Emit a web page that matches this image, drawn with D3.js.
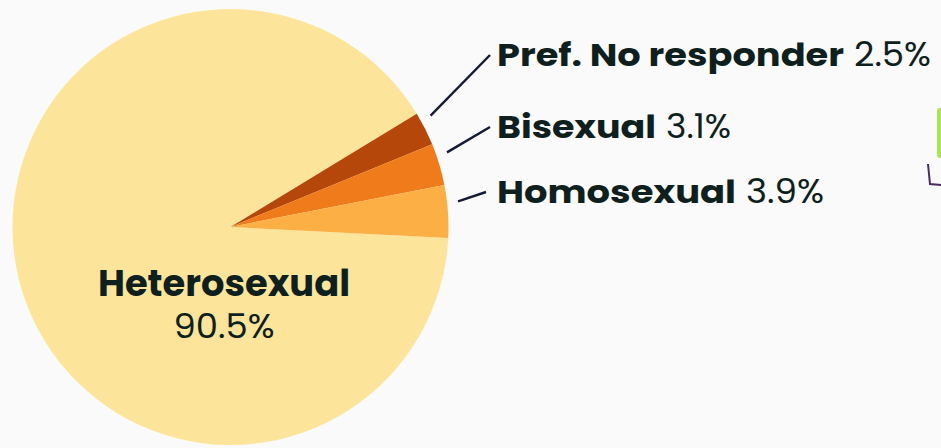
<!DOCTYPE html>
<html>
<head>
<meta charset="utf-8">
<script src="https://cdn.jsdelivr.net/npm/d3@7"></script>
<style>
  html, body { margin: 0; padding: 0; background: #fafafa; }
  svg { display: block; }
  text { font-family: Poppins, Inter, "Noto Sans", sans-serif; fill: #0f1f1e; }
</style>
</head>
<body>
<svg id="chart" width="941" height="448"></svg>
<script>
// data
const categories = ['Heterosexual', 'Pref. No responder', 'Bisexual', 'Homosexual'];
const values = [90.5, 2.5, 3.1, 3.9];
const colors = ['#fce59b', '#b5470a', '#ef7b1a', '#fcaf45'];

const width = 941, height = 448;
const cx = 230.5, cy = 227, radius = 218;

const svg = d3.select('#chart');

// small decoration on the right edge
svg.append('rect')
  .attr('x', 937).attr('y', 108)
  .attr('width', 10).attr('height', 50)
  .attr('rx', 3)
  .attr('fill', '#a9e45b');
svg.append('path')
  .attr('d', 'M928,164 L930,184 L941,185')
  .attr('fill', 'none')
  .attr('stroke', '#4b2c5e')
  .attr('stroke-width', 2);

const data = categories.map((c, i) => ({ name: c, val: values[i], color: colors[i] }));

// pie starts just below 3 o'clock and runs clockwise
const start = (92.9 * Math.PI) / 180;
const pie = d3.pie()
  .sort(null)
  .value(d => d.val)
  .startAngle(start)
  .endAngle(start + 2 * Math.PI);

const arc = d3.arc().innerRadius(0).outerRadius(radius);

const g = svg.append('g').attr('transform', `translate(${cx},${cy})`);
const arcs = pie(data);

g.selectAll('path.slice')
  .data(arcs)
  .enter()
  .append('path')
  .attr('class', 'slice')
  .attr('d', arc)
  .attr('fill', d => d.data.color);

// big slice label inside
const big = arcs[0];
g.append('text')
  .attr('x', 224 - cx)
  .attr('y', 296 - cy)
  .attr('text-anchor', 'middle')
  .attr('font-size', 36)
  .attr('font-weight', 700)
  .attr('textLength', 252)
  .attr('lengthAdjust', 'spacingAndGlyphs')
  .text(big.data.name);
g.append('text')
  .attr('x', 224 - cx)
  .attr('y', 338 - cy)
  .attr('text-anchor', 'middle')
  .attr('font-size', 34)
  .attr('font-weight', 400)
  .attr('textLength', 101)
  .attr('lengthAdjust', 'spacingAndGlyphs')
  .text(big.data.val.toFixed(1) + '%');

// callouts for the small slices
const labelX = 497;
const baselines = [66, 138, 203];
const labelWidths = [347, 159, 239];
const pctWidths = [77, 65, 78];
const small = arcs.slice(1);

small.forEach((d, i) => {
  const mid = (d.startAngle + d.endAngle) / 2 - 0.04;
  const r0 = radius + 11;
  const x0 = r0 * Math.sin(mid), y0 = -r0 * Math.cos(mid);
  const x1 = 490 - cx - (i === 2 ? 4 : 0), y1 = baselines[i] - 11 - cy;
  g.append('line')
    .attr('x1', x0).attr('y1', y0)
    .attr('x2', x1).attr('y2', y1)
    .attr('stroke', '#151a33')
    .attr('stroke-width', 2.4);

  svg.append('text')
    .attr('x', labelX)
    .attr('y', baselines[i])
    .attr('font-size', 32)
    .attr('font-weight', 700)
    .attr('textLength', labelWidths[i])
    .attr('lengthAdjust', 'spacingAndGlyphs')
    .text(d.data.name);
  svg.append('text')
    .attr('x', labelX + labelWidths[i] + 10)
    .attr('y', baselines[i])
    .attr('font-size', 33)
    .attr('font-weight', 400)
    .attr('textLength', pctWidths[i])
    .attr('lengthAdjust', 'spacingAndGlyphs')
    .text(d.data.val.toFixed(1) + '%');
});
</script>
</body>
</html>
